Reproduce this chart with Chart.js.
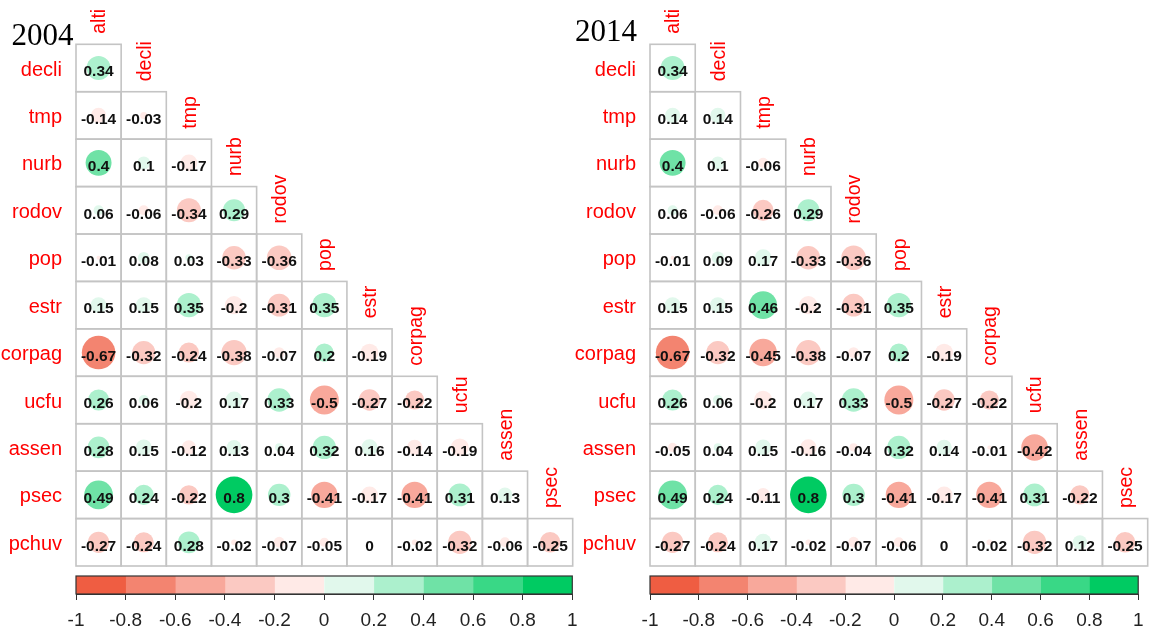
<!DOCTYPE html>
<html>
<head>
<meta charset="utf-8">
<script src="https://cdn.jsdelivr.net/npm/chart.js@4.4.1/dist/chart.umd.min.js"></script>
<style>
  html, body { margin: 0; padding: 0; background: #fff; }
  #wrap { position: relative; width: 1153px; height: 632px; overflow: hidden; background: #fff; }
  #wrap canvas { position: absolute; }
</style>
</head>
<body>
<div id="wrap">
  <canvas id="m2004" style="left:0;top:0"></canvas>
  <canvas id="m2014" style="left:570px;top:0"></canvas>
  <canvas id="c2004" style="left:0;top:570px"></canvas>
  <canvas id="c2014" style="left:570px;top:570px"></canvas>
</div>
<script>
// Variables in matrix order
const variables = ['alti', 'decli', 'tmp', 'nurb', 'rodov', 'pop', 'estr', 'corpag', 'ucfu', 'assen', 'psec', 'pchuv'];
const colLabels = variables.slice(0, 11);   // columns: alti .. psec
const rowLabels = variables.slice(1);       // rows: decli .. pchuv

// Lower-triangle correlations, one array per row (decli .. pchuv)
const corr2004 = [
  [0.34],
  [-0.14, -0.03],
  [0.4, 0.1, -0.17],
  [0.06, -0.06, -0.34, 0.29],
  [-0.01, 0.08, 0.03, -0.33, -0.36],
  [0.15, 0.15, 0.35, -0.2, -0.31, 0.35],
  [-0.67, -0.32, -0.24, -0.38, -0.07, 0.2, -0.19],
  [0.26, 0.06, -0.2, 0.17, 0.33, -0.5, -0.27, -0.22],
  [0.28, 0.15, -0.12, 0.13, 0.04, 0.32, 0.16, -0.14, -0.19],
  [0.49, 0.24, -0.22, 0.8, 0.3, -0.41, -0.17, -0.41, 0.31, 0.13],
  [-0.27, -0.24, 0.28, -0.02, -0.07, -0.05, 0, -0.02, -0.32, -0.06, -0.25]
];
const corr2014 = [
  [0.34],
  [0.14, 0.14],
  [0.4, 0.1, -0.06],
  [0.06, -0.06, -0.26, 0.29],
  [-0.01, 0.09, 0.17, -0.33, -0.36],
  [0.15, 0.15, 0.46, -0.2, -0.31, 0.35],
  [-0.67, -0.32, -0.45, -0.38, -0.07, 0.2, -0.19],
  [0.26, 0.06, -0.2, 0.17, 0.33, -0.5, -0.27, -0.22],
  [-0.05, 0.04, 0.15, -0.16, -0.04, 0.32, 0.14, -0.01, -0.42],
  [0.49, 0.24, -0.11, 0.8, 0.3, -0.41, -0.17, -0.41, 0.31, -0.22],
  [-0.27, -0.24, 0.17, -0.02, -0.07, -0.06, 0, -0.02, -0.32, 0.12, -0.25]
];

// Colour key breaks (-1 .. 1) and the ten fill colours between them
const legendBreaks = [-1, -0.8, -0.6, -0.4, -0.2, 0, 0.2, 0.4, 0.6, 0.8, 1];
const palette = ['#EF5D42', '#F38470', '#F8A89B', '#FBC9C2', '#FFEAE7',
                 '#E1F8EC', '#ACF0CD', '#6FE2A6', '#39D886', '#00CB62'];

const SANS = '"Liberation Sans", Arial, sans-serif';
const MAX_R = 20.5;

function binColor(v) {
  let k = Math.floor((v + 1) * 5 + 1e-9);
  k = Math.max(0, Math.min(palette.length - 1, k));
  return palette[k];
}

// Cell borders of the lower triangle
const cellGrid = {
  id: 'cellGrid',
  beforeDatasetsDraw(chart) {
    const { ctx, scales: { x, y } } = chart;
    ctx.save();
    ctx.strokeStyle = '#c4c4c4';
    ctx.lineWidth = 1.6;
    rowLabels.forEach((_, i) => {
      for (let j = 0; j <= i; j++) {
        const l = x.getPixelForValue(j - 0.5), r = x.getPixelForValue(j + 0.5);
        const t = y.getPixelForValue(i - 0.5), b = y.getPixelForValue(i + 0.5);
        ctx.strokeRect(l, t, r - l, b - t);
      }
    });
    ctx.restore();
  }
};

// Coefficient text, diagonal column names and panel title
const cellText = {
  id: 'cellText',
  afterDatasetsDraw(chart, args, opts) {
    const { ctx, scales: { x, y } } = chart;
    const meta = chart.getDatasetMeta(0);
    ctx.save();
    ctx.fillStyle = '#111';
    ctx.font = 'bold 15.5px ' + SANS;
    ctx.textAlign = 'center';
    ctx.textBaseline = 'alphabetic';
    meta.data.forEach((pt, k) => {
      const v = chart.data.datasets[0].data[k].v;
      ctx.fillText(String(v), pt.x, pt.y + 8.3);
    });

    ctx.fillStyle = '#ff0000';
    ctx.font = '19.5px ' + SANS;
    ctx.textAlign = 'left';
    ctx.textBaseline = 'middle';
    colLabels.forEach((name, j) => {
      const cx = x.getPixelForValue(j);
      const top = y.getPixelForValue(j - 0.5);
      ctx.save();
      ctx.translate(cx + 1.5, top - 10.5);
      ctx.rotate(-Math.PI / 2);
      ctx.fillText(name, 0, 0);
      ctx.restore();
    });

    ctx.fillStyle = '#000';
    ctx.font = '31px "Liberation Serif", "Times New Roman", serif';
    ctx.textAlign = 'left';
    ctx.textBaseline = 'alphabetic';
    ctx.fillText(opts.text, opts.x, opts.y);
    ctx.restore();
  }
};

function matrixChart(id, width, axisWidth, padRight, corr, title) {
  const el = document.getElementById(id);
  el.width = width; el.height = 632;
  const points = [];
  corr.forEach((row, i) => row.forEach((v, j) => {
    points.push({ x: colLabels[j], y: rowLabels[i], v });
  }));
  return new Chart(el, {
    type: 'bubble',
    data: {
      datasets: [{
        data: points,
        backgroundColor: c => binColor(c.raw.v),
        borderWidth: 0,
        radius: c => Math.sqrt(Math.abs(c.raw.v)) * MAX_R,
        hoverRadius: 0
      }]
    },
    options: {
      responsive: false,
      animation: false,
      devicePixelRatio: 1,
      events: [],
      layout: { padding: { left: 0, right: padRight, top: 44.3, bottom: 66 }, autoPadding: false },
      plugins: {
        legend: { display: false },
        tooltip: { enabled: false },
        cellText: title
      },
      scales: {
        x: { type: 'category', labels: colLabels, offset: true, display: false },
        y: {
          type: 'category', labels: rowLabels, offset: true, position: 'left',
          grid: { display: false, drawTicks: false },
          border: { display: false },
          ticks: { color: '#ff0000', font: { family: SANS, size: 20 }, padding: 14, labelOffset: 2, autoSkip: false },
          afterFit: s => { s.width = axisWidth; }
        }
      }
    },
    plugins: [cellGrid, cellText]
  });
}

// Black frame around the colour key
const keyFrame = {
  id: 'keyFrame',
  afterDatasetsDraw(chart) {
    const { ctx, chartArea: a } = chart;
    ctx.save();
    ctx.strokeStyle = '#333';
    ctx.lineWidth = 1.2;
    ctx.strokeRect(a.left, a.top, a.right - a.left, a.bottom - a.top);
    ctx.restore();
  }
};

function colorKey(id, width, padLeft, padRight) {
  const el = document.getElementById(id);
  el.width = width; el.height = 62;
  return new Chart(el, {
    type: 'bar',
    data: {
      labels: [''],
      datasets: palette.map((c, k) => ({
        data: [[legendBreaks[k], legendBreaks[k + 1]]],
        backgroundColor: c,
        borderWidth: 0,
        barPercentage: 1,
        categoryPercentage: 1,
        grouped: false
      }))
    },
    options: {
      indexAxis: 'y',
      responsive: false,
      animation: false,
      devicePixelRatio: 1,
      events: [],
      layout: { padding: { left: padLeft, right: padRight, top: 6, bottom: 0 }, autoPadding: false },
      plugins: { legend: { display: false }, tooltip: { enabled: false } },
      scales: {
        x: {
          type: 'linear', min: -1, max: 1,
          ticks: {
            stepSize: 0.2, autoSkip: false, maxRotation: 0, padding: 9.5,
            color: '#222', font: { family: SANS, size: 19 },
            callback: v => String(Math.round(v * 10) / 10)
          },
          grid: { drawOnChartArea: false, drawTicks: true, tickLength: 6, color: '#333', tickWidth: 1 },
          border: { display: true, color: '#333', width: 1 },
          afterFit: s => { s.height = 38; }
        },
        y: { display: false }
      }
    },
    plugins: [keyFrame]
  });
}

matrixChart('m2004', 576, 76, 3.3, corr2004, { text: '2004', x: 11.5, y: 45 });
matrixChart('m2014', 583, 80, 5.3, corr2014, { text: '2014', x: 5, y: 41 });
colorKey('c2004', 590, 76, 17.7);
colorKey('c2014', 583, 80, 7.3);
</script>
</body>
</html>
